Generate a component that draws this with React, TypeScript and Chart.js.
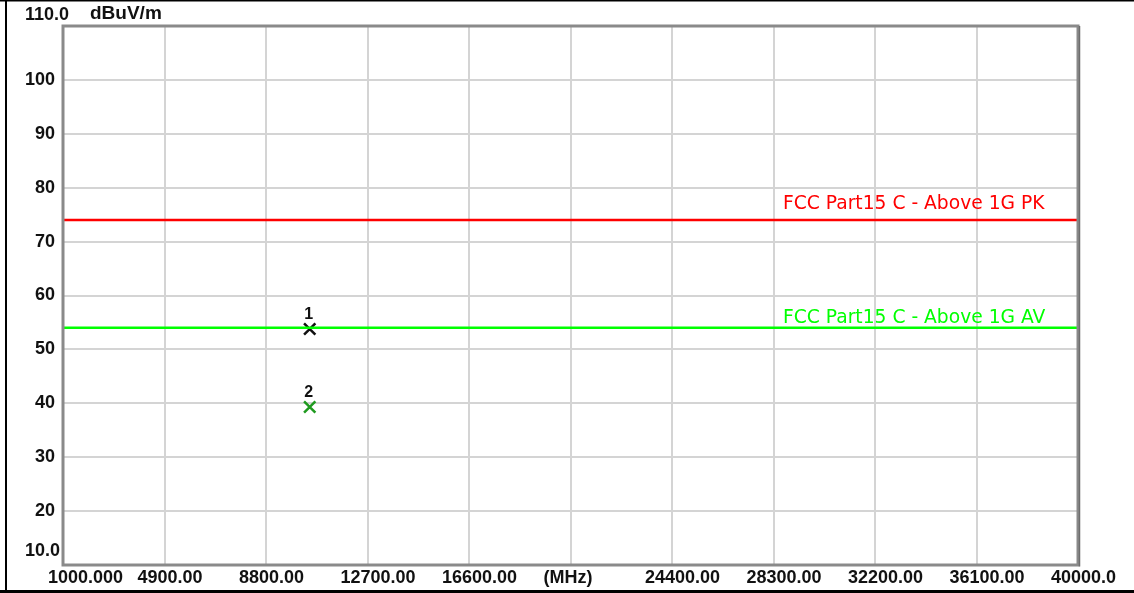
import React, { useEffect, useRef } from "react";
import { Chart, registerables } from "chart.js";

Chart.register(...registerables);

// ---- data ----
const xTickValues = [1000, 4900, 8800, 12700, 16600, 20500, 24400, 28300, 32200, 36100, 40000];
const xTickLabels = ["1000.000", "4900.00", "8800.00", "12700.00", "16600.00", "(MHz)", "24400.00", "28300.00", "32200.00", "36100.00", "40000.0"];
const yTickValues = [10, 20, 30, 40, 50, 60, 70, 80, 90, 100, 110];
const yTickLabels = ["10.0", "20", "30", "40", "50", "60", "70", "80", "90", "100", "110.0"];
const yUnit = "dBuV/m";

const limitNames = ["FCC Part15 C - Above 1G PK", "FCC Part15 C - Above 1G AV"];
const limitLevels = [74, 54];
const limitColors = ["#ff0000", "#00ff00"];

const markerIds = ["1", "2"];
const markerFreqs = [10480, 10480];
const markerLevels = [53.8, 39.3];
const markerColors = ["#111111", "#1f9a1f"];

const BOLD = "bold 18px 'Liberation Sans', Arial, sans-serif";

const overlay = {
  id: "overlay",
  beforeDraw(chart: any) {
    const ctx = chart.ctx;
    ctx.save();
    ctx.fillStyle = "#ffffff";
    ctx.fillRect(0, 0, chart.width, chart.height);
    ctx.restore();
  },
  afterDraw(chart: any) {
    const ctx = chart.ctx;
    const { left, right, top, bottom } = chart.chartArea;
    const xs = chart.scales.x;
    const ys = chart.scales.y;
    ctx.save();
    // plot frame
    ctx.strokeStyle = "#8a8a8a";
    ctx.lineWidth = 3;
    ctx.strokeRect(left, top, right - left, bottom - top);
    ctx.strokeStyle = "#6e6e6e";
    ctx.lineWidth = 1.5;
    ctx.beginPath();
    ctx.moveTo(right + 1.5, top);
    ctx.lineTo(right + 1.5, bottom + 1.5);
    ctx.stroke();

    // outer border
    ctx.fillStyle = "#000000";
    ctx.fillRect(0, 0, chart.width, 1.5);
    ctx.fillRect(5, 0, 2, chart.height - 3);
    ctx.fillRect(0, chart.height - 3, chart.width, 3);

    // y end labels + unit
    ctx.fillStyle = "#111111";
    ctx.font = BOLD;
    ctx.textAlign = "left";
    ctx.textBaseline = "middle";
    ctx.fillText(yTickLabels[yTickLabels.length - 1], 25, ys.getPixelForValue(yTickValues[yTickValues.length - 1]) - 11);
    ctx.fillText(yTickLabels[0], 25, ys.getPixelForValue(yTickValues[0]) - 14);
    ctx.font = "bold 19px 'Liberation Sans', Arial, sans-serif";
    ctx.fillText(yUnit, 90, ys.getPixelForValue(yTickValues[yTickValues.length - 1]) - 12);
    ctx.font = BOLD;

    // x labels
    xTickValues.forEach((v, i) => {
      const px = xs.getPixelForValue(v);
      const x = i === 0 ? px - 15 : px - 27;
      ctx.fillText(xTickLabels[i], x, bottom + 13);
    });

    // limit labels
    ctx.font = "18.7px 'DejaVu Sans', sans-serif";
    const offs = [16, 10];
    limitNames.forEach((name, i) => {
      ctx.fillStyle = limitColors[i];
      ctx.fillText(name, right - 295, ys.getPixelForValue(limitLevels[i]) - offs[i]);
    });

    // marker ids
    ctx.font = "bold 16px 'Liberation Sans', Arial, sans-serif";
    ctx.fillStyle = "#111111";
    ctx.textAlign = "center";
    markerIds.forEach((id, i) => {
      ctx.fillText(id, xs.getPixelForValue(markerFreqs[i]) - 1, ys.getPixelForValue(markerLevels[i]) - 14);
    });
    ctx.restore();
  },
};

export default function App() {
  const ref = useRef<HTMLCanvasElement | null>(null);
  useEffect(() => {
    document.body.style.margin = "0";
    const canvas = ref.current;
    if (!canvas) return;
    const datasets: any[] = [];
    limitNames.forEach((name, i) => {
      datasets.push({
        label: name,
        type: "line",
        data: [
          { x: xTickValues[0], y: limitLevels[i] },
          { x: xTickValues[xTickValues.length - 1], y: limitLevels[i] },
        ],
        borderColor: limitColors[i],
        backgroundColor: limitColors[i],
        borderWidth: 2.5,
        pointRadius: 0,
        showLine: true,
      });
    });
    markerIds.forEach((id, i) => {
      datasets.push({
        label: "Marker " + id,
        data: [{ x: markerFreqs[i], y: markerLevels[i] }],
        pointStyle: "crossRot",
        pointRadius: 8,
        borderColor: markerColors[i],
        backgroundColor: markerColors[i],
        borderWidth: 2.5,
      });
    });
    const chart = new Chart(canvas, {
      type: "scatter",
      data: { datasets },
      plugins: [overlay],
      options: {
        responsive: false,
        animation: false,
        events: [],
        layout: { padding: { top: 26, right: 56, left: 0, bottom: 0 } },
        plugins: { legend: { display: false }, tooltip: { enabled: false } },
        scales: {
          x: {
            type: "linear",
            min: xTickValues[0],
            max: xTickValues[xTickValues.length - 1],
            afterBuildTicks: (s: any) => {
              s.ticks = xTickValues.map((v) => ({ value: v }));
            },
            afterFit: (s: any) => {
              s.height = 28;
            },
            ticks: { display: false },
            grid: { color: "#d4d4d4", lineWidth: 2, drawTicks: false },
            border: { display: false },
          },
          y: {
            type: "linear",
            min: yTickValues[0],
            max: yTickValues[yTickValues.length - 1],
            afterBuildTicks: (s: any) => {
              s.ticks = yTickValues.map((v) => ({ value: v }));
            },
            afterFit: (s: any) => {
              s.width = 63;
            },
            ticks: {
              padding: 8,
              color: "#111111",
              font: { family: "'Liberation Sans', Arial, sans-serif", size: 18, weight: "bold" },
              callback: (v: any) => {
                const i = yTickValues.indexOf(Number(v));
                if (i === 0 || i === yTickValues.length - 1) return "";
                return i >= 0 ? yTickLabels[i] : "";
              },
            },
            grid: { color: "#d4d4d4", lineWidth: 2, drawTicks: false },
            border: { display: false },
          },
        },
      } as any,
    });
    return () => chart.destroy();
  }, []);
  return <canvas ref={ref} width={1134} height={593} style={{ display: "block" }} />;
}
